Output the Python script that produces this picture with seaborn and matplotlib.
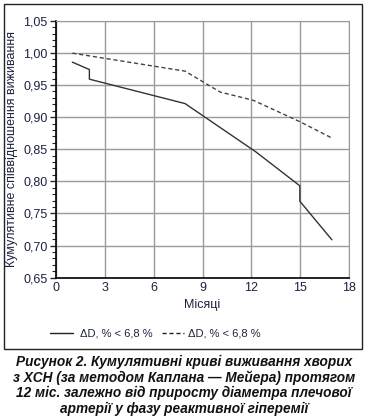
import numpy as np
import pandas as pd
import seaborn as sns
import matplotlib.pyplot as plt
from matplotlib.patches import Rectangle
from matplotlib.ticker import MultipleLocator

# survival curves
months_solid = [1.0, 2.05, 2.05, 7.93, 12.27, 14.98, 14.98, 16.95]
surv_solid = [0.9855, 0.974, 0.959, 0.921, 0.846, 0.793, 0.769, 0.709]
months_dash = [1.0, 7.93, 10.08, 12.13, 15.0, 16.98]
surv_dash = [0.9995, 0.9715, 0.939, 0.926, 0.8926, 0.867]

x_ticks = [0, 3, 6, 9, 12, 15, 18]
y_ticks = [0.65, 0.70, 0.75, 0.80, 0.85, 0.90, 0.95, 1.00, 1.05]
y_labels = ['0,65', '0,70', '0,75', '0,80', '0,85', '0,90', '0,95', '1,00', '1,05']
legend_label = 'ΔD, % < 6,8 %'
caption = ('Рисунок 2. Кумулятивні криві виживання хворих\n'
           'з ХСН (за методом Каплана — Мейера) протягом\n'
           '12 міс. залежно від приросту діаметра плечової\n'
           'артерії у фазу реактивної гіперемії')

sns.set_style('white')
plt.rcParams['font.family'] = ['Liberation Sans', 'DejaVu Sans']

W, H = 368, 419
fig = plt.figure(figsize=(W / 100, H / 100), dpi=100)
ax = fig.add_axes([56 / W, 1 - 277.7 / H, 293 / W, 257 / H])

df_s = pd.DataFrame({'m': months_solid, 's': surv_solid})
df_d = pd.DataFrame({'m': months_dash, 's': surv_dash})
sns.lineplot(data=df_s, x='m', y='s', estimator=None, sort=False, ax=ax,
             color='#333333', lw=1.0)
sns.lineplot(data=df_d, x='m', y='s', estimator=None, sort=False, ax=ax,
             color='#444444', lw=1.0, linestyle=(0, (3, 2)))

ax.set_xlim(0, 18)
ax.set_ylim(0.65, 1.05)
ax.set_xticks(x_ticks)
ax.set_xticklabels([str(t) for t in x_ticks])
ax.set_yticks(y_ticks)
ax.set_yticklabels(y_labels)
ax.yaxis.set_minor_locator(MultipleLocator(0.01))
ax.grid(True, which='major', color='#9a9a9a', lw=1.0)
ax.set_axisbelow(True)
for s in ['top', 'right']:
    ax.spines[s].set_color('#9a9a9a')
for s in ['left', 'bottom']:
    ax.spines[s].set_color('black')
    ax.spines[s].set_linewidth(1.2)
ax.tick_params(axis='y', which='major', direction='out', length=4, width=1,
               labelsize=9, labelcolor='#1c2340', left=True, pad=2)
ax.tick_params(axis='y', which='minor', direction='out', length=3, width=0.8, left=True)
ax.tick_params(axis='x', which='major', length=0, labelsize=9,
               labelcolor='#1c2340', pad=3)
ax.set_xlabel('Місяці', fontsize=9, color='#1c2340', labelpad=4)
ax.set_ylabel('Кумулятивне співвідношення виживання', fontsize=9,
              color='#1c2340')
ax.yaxis.set_label_coords(-(56 - 18) / 293, 0.5)

# legend drawn as figure lines
ly = 1 - 333 / H
fig.add_artist(plt.Line2D([50 / W, 73 / W], [ly, ly], color='#222222', lw=1.0))
fig.text(80 / W, ly, legend_label, fontsize=8, va='center', color='#1c2340')
fig.add_artist(plt.Line2D([162 / W, 184 / W], [ly, ly], color='#222222',
                          lw=1.0, linestyle=(0, (3, 2))))
fig.text(188 / W, ly, legend_label, fontsize=8, va='center', color='#1c2340')

# border around chart
fig.add_artist(Rectangle((4 / W, 1 - 349 / H), 358 / W, 345 / H,
                         transform=fig.transFigure, fill=False,
                         edgecolor='#222222', lw=1.0))

fig.text(0.5, 1 - 355 / H, caption, ha='center', va='top', fontsize=9.8,
         fontweight='bold', style='italic', linespacing=1.12, color='#111111')

fig.savefig('out.png', dpi=100)
